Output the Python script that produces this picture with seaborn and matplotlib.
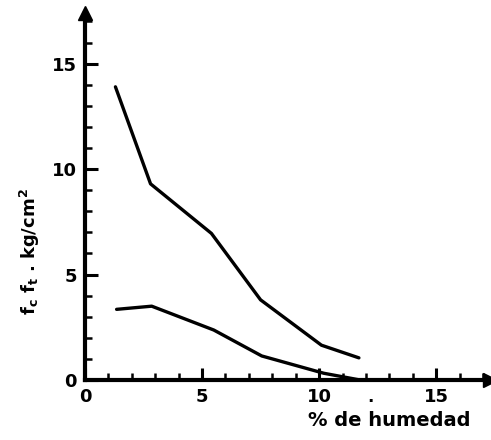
import matplotlib
matplotlib.use("Agg")
import matplotlib.pyplot as plt
import numpy as np
import pandas as pd
import seaborn as sns
from matplotlib.ticker import MultipleLocator

# humedad (%) y resistencias (kg/cm2)
hum_upper = [1.3, 2.8, 5.4, 7.5, 10.1, 11.7]
f_upper = [13.9, 9.3, 6.95, 3.8, 1.65, 1.05]
hum_lower = [1.35, 2.85, 5.5, 7.55, 10.2, 11.75]
f_lower = [3.35, 3.5, 2.37, 1.14, 0.32, 0.0]

xticks = [0, 5, 10, 15]
yticks = [0, 5, 10, 15]

df = pd.concat([
    pd.DataFrame({'hum': hum_upper, 'f': f_upper, 'curva': 'sup'}),
    pd.DataFrame({'hum': hum_lower, 'f': f_lower, 'curva': 'inf'}),
])

sns.set_style("white")
plt.rcParams['font.family'] = ['DejaVu Sans']
plt.rcParams['font.weight'] = 'bold'
plt.rcParams['text.color'] = 'black'
plt.rcParams['xtick.color'] = 'black'
plt.rcParams['ytick.color'] = 'black'

fig = plt.figure(figsize=(4.91, 4.4), dpi=100)
ax = fig.add_axes([85/491, 60/440, 405/491, 367/440])

sns.lineplot(data=df, x='hum', y='f', units='curva', estimator=None,
             color='black', lw=2.4, sort=False, ax=ax, legend=False)

ax.set_xlim(0, 17.3)
ax.set_ylim(0, 17.4)
ax.set_xticks(xticks)
ax.set_yticks(yticks)
ax.xaxis.set_minor_locator(MultipleLocator(1))
ax.yaxis.set_minor_locator(MultipleLocator(1))
ax.tick_params(which='major', direction='in', length=9, width=2.2, labelsize=13, pad=6,
               colors='black')
ax.tick_params(which='minor', direction='in', length=5, width=1.8, colors='black')
ax.tick_params(axis='y', which='both', left=True)
ax.tick_params(axis='x', which='both', bottom=True)
for lab in ax.get_xticklabels() + ax.get_yticklabels():
    lab.set_fontweight('bold')

for s in ['top', 'right']:
    ax.spines[s].set_visible(False)
for s in ['left', 'bottom']:
    ax.spines[s].set_linewidth(3)
    ax.spines[s].set_color('black')

# flechas de los ejes
ax.plot(1, 0, '>', color='black', ms=10, transform=ax.transAxes, clip_on=False)
ax.plot(0, 1, '^', color='black', ms=10, transform=ax.transAxes, clip_on=False)

ax.set_xlabel('')
ax.set_ylabel('')
fig.text(470/491, 1 - 420/440, '% de humedad', ha='right', va='center',
         fontsize=14, fontweight='bold', color='black')
fig.text(30/491, 1 - 252/440, r'f$_\mathbf{c}$ f$_\mathbf{t}$ . kg/cm$^\mathbf{2}$',
         rotation=90, ha='center', va='center', fontsize=13, fontweight='bold',
         color='black')
fig.text(370/491, 1 - 397/440, '.', ha='center', va='center', fontsize=12,
         fontweight='bold', color='black')

fig.savefig('out.png', dpi=100)
